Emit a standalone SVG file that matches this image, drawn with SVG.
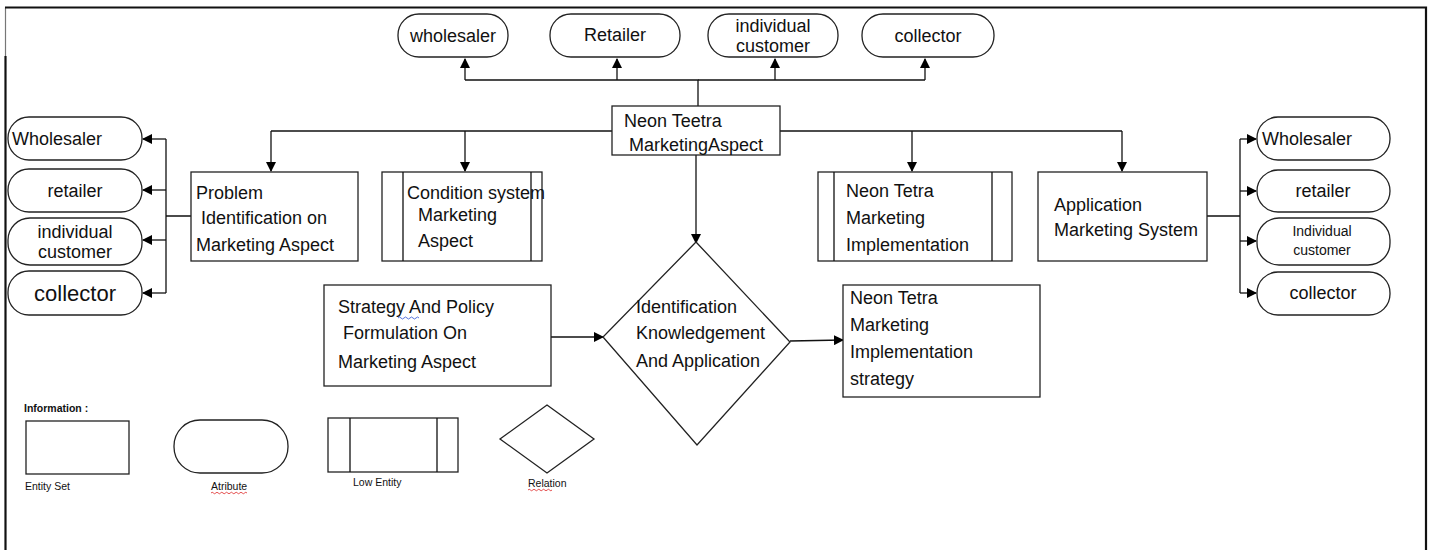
<svg xmlns="http://www.w3.org/2000/svg" width="1433" height="550" viewBox="0 0 1433 550">
<style>
.bx{fill:#fff;stroke:#222;stroke-width:1.3}
.ln{fill:none;stroke:#111;stroke-width:1.3}
.t{font-family:"Liberation Sans",Arial,sans-serif;font-size:18px;fill:#111}
.tc{text-anchor:middle}
.sm{font-family:"Liberation Sans",Arial,sans-serif;font-size:10.5px;fill:#111}
</style>
<defs>
<marker id="ah" markerWidth="10" markerHeight="10" refX="9" refY="5" orient="auto" markerUnits="userSpaceOnUse">
<path d="M0,0 L10,5 L0,10 z" fill="#000"/>
</marker>
</defs>
<rect x="0" y="0" width="1433" height="550" fill="#fff"/>
<path d="M5.5,56 V7.5" fill="none" stroke="#777" stroke-width="1.2"/>
<path d="M5.5,550 V56" fill="none" stroke="#111" stroke-width="2.2"/>
<path d="M5,7.5 H1426 V550" fill="none" stroke="#111" stroke-width="2.2"/>

<g id="connectors">
<path class="ln" d="M698,106 V80 H465"/>
<path class="ln" d="M465,80 V59" marker-end="url(#ah)"/>
<path class="ln" d="M617,80 V59" marker-end="url(#ah)"/>
<path class="ln" d="M698,80 H925"/>
<path class="ln" d="M775,80 V59" marker-end="url(#ah)"/>
<path class="ln" d="M925,80 V59" marker-end="url(#ah)"/>
<path class="ln" d="M271,131 H1122"/>
<path class="ln" d="M271,131 V171" marker-end="url(#ah)"/>
<path class="ln" d="M465,131 V171" marker-end="url(#ah)"/>
<path class="ln" d="M912,131 V171" marker-end="url(#ah)"/>
<path class="ln" d="M1122,131 V171" marker-end="url(#ah)"/>
<path class="ln" d="M696,155 V243" marker-end="url(#ah)"/>
<path class="ln" d="M191,216 H166 M166,139 V293"/>
<path class="ln" d="M166,139 H143" marker-end="url(#ah)"/>
<path class="ln" d="M166,190 H143" marker-end="url(#ah)"/>
<path class="ln" d="M166,240 H143" marker-end="url(#ah)"/>
<path class="ln" d="M166,293 H143" marker-end="url(#ah)"/>
<path class="ln" d="M1207,216 H1240 M1240,139 V293"/>
<path class="ln" d="M1240,139 H1256" marker-end="url(#ah)"/>
<path class="ln" d="M1240,191 H1256" marker-end="url(#ah)"/>
<path class="ln" d="M1240,241 H1256" marker-end="url(#ah)"/>
<path class="ln" d="M1240,293 H1256" marker-end="url(#ah)"/>
<path class="ln" d="M551,337 H603" marker-end="url(#ah)"/>
<path class="ln" d="M790,341 L843,340" marker-end="url(#ah)"/>
</g>

<g id="top-wholesaler"><rect class="bx" x="398" y="14" width="110" height="43" rx="21"/><text class="t tc" x="453" y="42">wholesaler</text></g>
<g id="top-retailer"><rect class="bx" x="550" y="14" width="130" height="43" rx="21"/><text class="t tc" x="615" y="41">Retailer</text></g>
<g id="top-individual"><rect class="bx" x="708" y="14" width="130" height="43" rx="21"/><text class="t tc" x="773" y="32">individual</text><text class="t tc" x="773" y="52">customer</text></g>
<g id="top-collector"><rect class="bx" x="862" y="14" width="132" height="43" rx="21"/><text class="t tc" x="928" y="42">collector</text></g>

<g id="neon-teetra"><rect class="bx" x="612" y="106" width="168" height="49"/><text class="t" x="624" y="127">Neon Teetra</text><text class="t" x="629" y="151">MarketingAspect</text></g>

<g id="left-wholesaler"><rect class="bx" x="8" y="117" width="134" height="43" rx="21"/><text class="t" x="12" y="145">Wholesaler</text></g>
<g id="left-retailer"><rect class="bx" x="8" y="169" width="134" height="43" rx="21"/><text class="t tc" x="75" y="197">retailer</text></g>
<g id="left-individual"><rect class="bx" x="8" y="218" width="134" height="47" rx="22"/><text class="t tc" x="75" y="238">individual</text><text class="t tc" x="75" y="258">customer</text></g>
<g id="left-collector"><rect class="bx" x="8" y="271" width="134" height="44" rx="21"/><text class="t tc" x="75" y="301" style="font-size:22px">collector</text></g>

<g id="problem"><rect class="bx" x="191" y="172" width="167" height="89"/><text class="t" x="196" y="199">Problem</text><text class="t" x="201" y="224">Identification on</text><text class="t" x="196" y="251">Marketing Aspect</text></g>

<g id="condition"><rect class="bx" x="382" y="172" width="160" height="89"/><path class="ln" d="M403,172 V261 M531,172 V261"/><text class="t" x="407" y="199">Condition system</text><text class="t" x="418" y="221">Marketing</text><text class="t" x="418" y="247">Aspect</text></g>

<g id="implementation"><rect class="bx" x="818" y="172" width="194" height="89"/><path class="ln" d="M834,172 V261 M992,172 V261"/><text class="t" x="846" y="197">Neon Tetra</text><text class="t" x="846" y="224">Marketing</text><text class="t" x="846" y="251">Implementation</text></g>

<g id="application"><rect class="bx" x="1038" y="172" width="169" height="89"/><text class="t" x="1054" y="211">Application</text><text class="t" x="1054" y="236">Marketing System</text></g>

<g id="right-wholesaler"><rect class="bx" x="1257" y="117" width="133" height="43" rx="21"/><text class="t" x="1262" y="145">Wholesaler</text></g>
<g id="right-retailer"><rect class="bx" x="1257" y="170" width="133" height="42" rx="21"/><text class="t tc" x="1323" y="197">retailer</text></g>
<g id="right-individual"><rect class="bx" x="1257" y="218" width="133" height="47" rx="22"/><text class="t tc" x="1322" y="236" style="font-size:14px">Individual</text><text class="t tc" x="1322" y="255" style="font-size:14px">customer</text></g>
<g id="right-collector"><rect class="bx" x="1257" y="272" width="133" height="43" rx="21"/><text class="t tc" x="1323" y="299">collector</text></g>

<g id="strategy"><rect class="bx" x="324" y="285" width="227" height="101"/><text class="t" x="338" y="313">Strategy And Policy</text><text class="t" x="343" y="339">Formulation On</text><text class="t" x="338" y="368">Marketing Aspect</text><path d="M398,318 q1.5,-2 3,0 t3,0 t3,0 t3,0 t3,0 t3,0 t3,0" fill="none" stroke="#2b4fd6" stroke-width="0.8"/></g>

<g id="relation-main"><path class="bx" d="M696,242 L790,342 L697,445 L603,337 Z"/><text class="t" x="636" y="313">Identification</text><text class="t" x="636" y="339">Knowledgement</text><text class="t" x="636" y="367">And Application</text></g>

<g id="strategy-impl"><rect class="bx" x="843" y="285" width="197" height="112"/><text class="t" x="850" y="304">Neon Tetra</text><text class="t" x="850" y="331">Marketing</text><text class="t" x="850" y="358">Implementation</text><text class="t" x="850" y="385">strategy</text></g>

<g id="legend">
<text class="sm" x="24" y="412" style="font-weight:bold">Information :</text>
<rect class="bx" x="26" y="421" width="103" height="53"/>
<text class="sm" x="25" y="490">Entity Set</text>
<rect class="bx" x="174" y="420" width="114" height="53" rx="26"/>
<text class="sm" x="211" y="490">Atribute</text>
<path d="M211,493 q1.2,-1.5 2.4,0 t2.4,0 t2.4,0 t2.4,0 t2.4,0 t2.4,0 t2.4,0 t2.4,0 t2.4,0 t2.4,0 t2.4,0 t2.4,0 t2.4,0 t2.4,0 t2.4,0" fill="none" stroke="#d22" stroke-width="0.8"/>
<rect class="bx" x="328" y="418" width="130" height="54"/>
<path class="ln" d="M350,418 V472 M437,418 V472"/>
<text class="sm" x="353" y="486">Low Entity</text>
<path class="bx" d="M547,405 L594,439 L547,473 L500,439 Z"/>
<text class="sm" x="528" y="487">Relation</text>
<path d="M528,490 q1.2,-1.5 2.4,0 t2.4,0 t2.4,0 t2.4,0 t2.4,0 t2.4,0 t2.4,0 t2.4,0 t2.4,0 t2.4,0" fill="none" stroke="#d22" stroke-width="0.8"/>
</g>
</svg>
